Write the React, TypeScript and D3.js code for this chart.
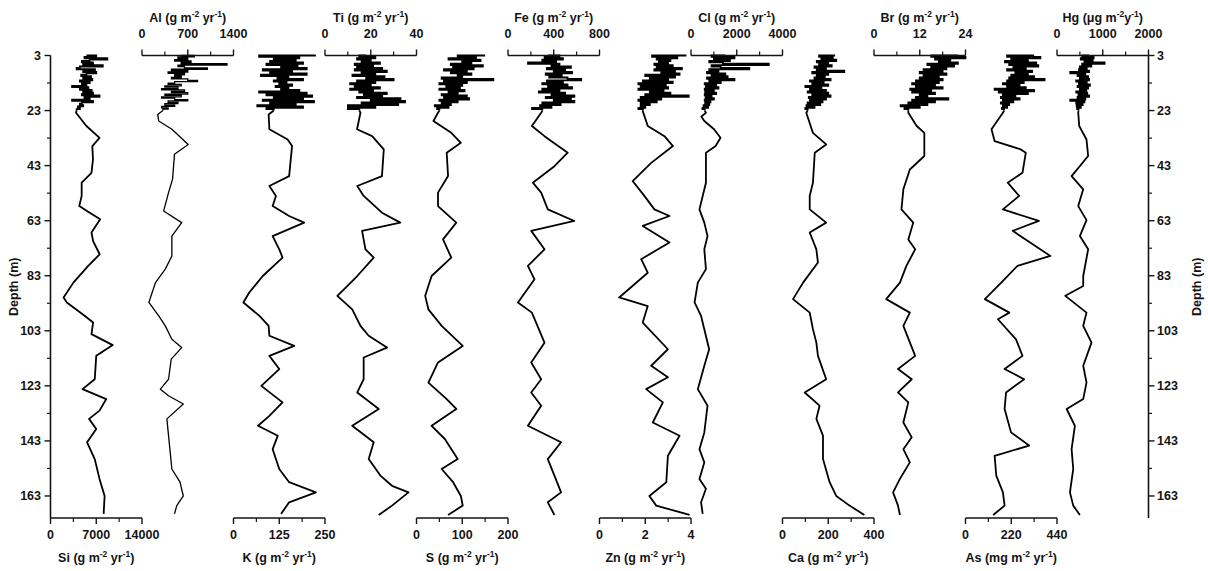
import React from "react";
import * as d3 from "d3";

// ---------- DATA ----------
const depthTicks = [3, 23, 43, 63, 83, 103, 123, 143, 163];
const depthMinorTicks = [13, 33, 53, 73, 93, 113, 133, 153];

const topDepths = [3, 3.5, 4, 4.5, 5, 5.5, 6, 6.5, 7, 7.5, 8, 8.5, 9, 9.5, 10, 10.5, 11, 11.5, 12, 12.5, 13, 13.5, 14, 14.5, 15, 15.5, 16, 16.5, 17, 17.5, 18, 18.5, 19, 19.5, 20, 20.5, 21, 21.5, 22, 22.5, 23];

const siTop = [5500, 7000, 5200, 8700, 6000, 4800, 6500, 5000, 8000, 4500, 4000, 6800, 5000, 7000, 5500, 4700, 6200, 5000, 6400, 4500, 6000, 4800, 5500, 3300, 5800, 4500, 6300, 5000, 6500, 4800, 7500, 5200, 6000, 3300, 6500, 4800, 4500, 5000, 4200, 4500, 4000];
const siLow: [number, number][] = [[23.8, 3900], [28.6, 5500], [32.9, 7500], [35.9, 6400], [40.7, 6500], [45.6, 6270], [49.2, 4770], [54, 4770], [57.7, 4400], [60.1, 6000], [62.5, 7600], [67.3, 6270], [70.4, 6520], [75.2, 7520], [79.4, 5770], [85.5, 3500], [90.9, 2000], [92.7, 2500], [97.6, 5270], [100, 6520], [104.2, 6270], [108.2, 9530], [112.1, 7000], [120.6, 6770], [124.2, 4900], [127.8, 8530], [132, 7500], [135, 5900], [138.7, 7000], [143.5, 5600], [149.6, 6770], [156.8, 7500], [163, 8280], [169.5, 8130]];

const alTop = [600, 800, 550, 700, 500, 750, 600, 1300, 550, 650, 1000, 450, 700, 400, 650, 500, 600, 450, 700, 850, 500, 400, 600, 350, 550, 300, 650, 450, 700, 350, 600, 300, 500, 700, 400, 550, 350, 500, 300, 400, 320];
const alLow: [number, number][] = [[24.4, 240], [26.8, 256], [29.8, 457], [35.3, 707], [38.9, 497], [48, 467], [52.8, 406], [59.5, 331], [63.7, 607], [68.6, 457], [75.8, 457], [80.6, 356], [85.5, 206], [92.7, 105], [97.6, 256], [101.2, 356], [106.1, 457], [109.1, 607], [113.3, 447], [120.6, 406], [124.2, 281], [126.6, 406], [129.6, 632], [135, 381], [141.1, 406], [153.2, 457], [158, 582], [163, 632], [166.5, 532], [169.5, 497]];

const kTop = [225, 70, 180, 110, 170, 100, 190, 90, 175, 130, 200, 80, 160, 100, 200, 75, 150, 120, 190, 110, 145, 125, 160, 115, 150, 130, 180, 70, 200, 90, 215, 110, 190, 80, 220, 100, 170, 65, 190, 90, 110];
const kLow: [number, number][] = [[24.4, 96], [29.8, 98], [33.5, 148], [35.9, 160], [46.8, 152], [50.4, 98], [54, 116], [57.7, 107], [61.3, 152], [63.7, 193], [68.6, 107], [73.4, 125], [76.4, 134], [83.1, 80], [89.1, 43], [92.7, 27], [97.6, 71], [101.2, 96], [104.8, 98], [108.5, 166], [112.1, 98], [116.9, 125], [123, 76], [129, 134], [133.9, 98], [137.5, 67], [141.1, 121], [146, 107], [153.2, 125], [158, 152], [161.7, 225], [165.3, 152], [169.5, 130]];

const tiTop = [18, 15, 22, 14, 20, 16, 24, 13, 21, 14, 25, 13, 27, 16, 22, 12, 26, 18, 30, 14, 22, 11, 20, 13, 24, 11, 21, 15, 27, 17, 25, 14, 33, 20, 35, 16, 32, 10, 22, 10, 15];
const tiLow: [number, number][] = [[23.8, 15.5], [29.8, 14], [32.3, 20.6], [37.1, 25.7], [46.8, 24.9], [50.4, 14.1], [54, 16.9], [60.1, 24.9], [63.7, 32.9], [66.7, 16.2], [73.4, 17.7], [76.4, 21.3], [83.1, 14.1], [90.3, 5.4], [95.2, 11.9], [101.2, 15.5], [104.8, 19.1], [109.1, 27.1], [112.7, 16.9], [120.6, 16.9], [125.4, 14.1], [131.4, 23.5], [137.5, 11.9], [143.5, 21.3], [149.6, 19.1], [155.6, 24.2], [159.3, 29.3], [161.7, 36.5], [166.5, 29.3], [169.9, 23.5]];

const sTop = [150, 90, 130, 70, 140, 100, 120, 75, 145, 80, 125, 60, 110, 75, 120, 90, 100, 55, 168, 60, 110, 50, 100, 65, 95, 50, 105, 70, 90, 55, 110, 60, 115, 50, 90, 55, 75, 40, 70, 45, 50];
const sLow: [number, number][] = [[23.8, 47], [26.8, 37], [31.1, 76], [34.7, 97], [38.3, 66], [46.8, 69], [52.8, 47], [57.7, 47], [63.7, 87], [69.8, 58], [76.4, 76], [83.1, 33], [90.3, 19], [95.2, 26], [101.2, 55], [108.5, 101], [114.5, 47], [121.8, 26], [127.8, 66], [131.4, 87], [137.5, 33], [142.3, 62], [149.6, 90], [153.2, 55], [158, 80], [163, 97], [166.5, 101], [169.9, 69]];

const feTop = [350, 450, 320, 480, 300, 420, 175, 450, 380, 550, 340, 500, 400, 560, 330, 470, 360, 520, 640, 340, 480, 300, 520, 350, 560, 300, 450, 270, 500, 380, 580, 330, 550, 400, 580, 300, 460, 280, 380, 210, 300];
const feLow: [number, number][] = [[23.8, 290], [28.6, 209], [32.3, 319], [38.3, 522], [43.2, 406], [49.2, 217], [52.8, 290], [58.9, 348], [63.1, 580], [66.7, 203], [73.4, 319], [79.4, 174], [84.3, 232], [92.7, 87], [96.4, 209], [107.3, 319], [114.5, 203], [120.6, 290], [125.4, 203], [130.2, 290], [137.5, 174], [143.5, 464], [149.6, 348], [155.6, 406], [161.7, 464], [165.3, 348], [169.9, 406]];

const znTop = [3.8, 2.3, 3.4, 2.5, 3.1, 2.6, 3.0, 2.4, 3.2, 2.5, 3.6, 2.4, 3.3, 2.7, 3.5, 2.0, 3.3, 2.2, 3.0, 1.9, 3.2, 1.7, 2.9, 1.8, 3.0, 1.7, 2.8, 2.2, 3.1, 2.0, 3.9, 1.8, 2.7, 1.7, 2.5, 1.8, 2.2, 1.8, 2.0, 1.7, 1.9];
const znLow: [number, number][] = [[23.2, 1.89], [28.6, 2.11], [32.3, 2.84], [35.9, 3.21], [42, 2.26], [48.6, 1.45], [54, 1.96], [58.9, 2.4], [61.3, 3.06], [64.9, 1.89], [70.9, 3.06], [77, 1.82], [81.9, 2.11], [90.9, 0.86], [94, 2.11], [100, 1.89], [109.7, 2.99], [115.7, 2.26], [119.9, 2.99], [124.2, 2.04], [129, 2.77], [136.3, 2.33], [141.1, 3.5], [148.4, 2.99], [158, 2.92], [163, 2.18], [166.5, 2.48], [169.9, 3.94]];

const clTop = [1500, 900, 1900, 1000, 1700, 800, 1400, 3400, 900, 1300, 2550, 800, 1200, 700, 1500, 900, 1600, 700, 1900, 800, 1300, 600, 1100, 650, 1200, 600, 1000, 620, 1100, 600, 900, 640, 1000, 600, 850, 620, 800, 550, 750, 500, 600];
const clLow: [number, number][] = [[23.8, 653], [25.2, 450], [26.8, 582], [29.8, 1007], [32.9, 1290], [35.9, 1078], [38.3, 653], [49.2, 653], [58.9, 369], [63.7, 582], [68.6, 723], [73.4, 582], [80.6, 653], [85.5, 298], [92.7, 156], [97.6, 440], [109.7, 794], [115.7, 582], [124.2, 298], [130.2, 723], [139.9, 582], [146, 369], [150.8, 582], [156.8, 369], [160.4, 653], [165.3, 440], [169.5, 511]];

const caTop = [230, 160, 220, 170, 235, 150, 200, 160, 215, 140, 190, 150, 270, 130, 200, 150, 185, 140, 210, 120, 180, 130, 200, 100, 170, 120, 190, 110, 200, 130, 210, 115, 190, 120, 175, 110, 165, 105, 140, 100, 110];
const caLow: [number, number][] = [[23.8, 104], [31.1, 133], [35.3, 191], [38.3, 141], [49.2, 133], [54, 119], [58.9, 119], [63.7, 191], [67.3, 119], [73.4, 148], [78.2, 155], [85.5, 90], [91.5, 46], [96.4, 119], [102.4, 133], [107.3, 148], [112.1, 155], [120.6, 191], [125.4, 97], [130.2, 162], [135, 148], [141.1, 177], [149.6, 177], [158, 206], [163, 235], [166.5, 293], [169.9, 358]];

const brTop = [22, 15, 24, 16, 20, 17, 22, 14, 21, 15, 19, 13, 18, 12, 19, 13, 17, 12, 18, 11, 17, 10, 16, 11, 18, 9.5, 15, 10, 16, 12, 14, 11, 19.5, 10, 16, 9, 14, 7, 12, 8, 9];
const brLow: [number, number][] = [[23.8, 9], [28.6, 11.2], [31.1, 13.2], [39.5, 13.2], [44.4, 9.4], [51.6, 7.7], [58.9, 7.2], [63.7, 10.3], [69.8, 9], [73.4, 10.8], [79.4, 8.5], [85.5, 6.8], [91.5, 3.2], [96.4, 9.4], [101.2, 7.7], [112.1, 10.8], [116.9, 6.3], [120.6, 9.9], [125.4, 6.3], [129, 9], [136.3, 7.7], [141.7, 9.9], [146, 7.7], [150.8, 9.4], [156.8, 6.8], [161.7, 5], [166.5, 6.3], [169.9, 6.8]];

const asTop = [330, 200, 360, 220, 300, 190, 340, 210, 350, 230, 290, 200, 320, 240, 300, 220, 330, 210, 380, 200, 280, 180, 260, 200, 290, 140, 330, 160, 300, 180, 240, 170, 260, 180, 230, 170, 210, 180, 200, 175, 185];
const asLow: [number, number][] = [[23.8, 180], [29.8, 125], [34.1, 140], [37.1, 266], [38.3, 290], [45.6, 274], [49.2, 203], [54, 258], [58.9, 180], [63.1, 353], [66.7, 227], [75.8, 408], [79.4, 250], [85.5, 172], [91.5, 93], [96.4, 211], [98.8, 156], [106.1, 243], [112.1, 274], [116.9, 188], [120.6, 282], [125.4, 195], [131.4, 188], [139.9, 219], [144.7, 306], [148.4, 140], [155.6, 148], [161.7, 180], [166.5, 188], [169.9, 133]];

const hgTop = [700, 550, 800, 520, 780, 600, 1040, 550, 750, 500, 650, 480, 700, 290, 620, 450, 680, 500, 700, 420, 650, 480, 720, 450, 680, 500, 640, 420, 660, 470, 700, 450, 620, 290, 600, 420, 560, 430, 520, 440, 470];
const hgLow: [number, number][] = [[23.8, 464], [28.6, 486], [33.5, 645], [39.5, 681], [46.8, 319], [51.6, 573], [57.7, 464], [62.8, 645], [68.6, 500], [73.4, 681], [83.1, 573], [86.7, 573], [90.3, 182], [96.4, 645], [101.2, 573], [107.3, 754], [115.7, 573], [121.8, 645], [127.8, 573], [131.4, 211], [137.5, 391], [146, 319], [153.2, 355], [161.7, 283], [166.5, 355], [169.9, 500]];

const siTicks = [0, 7000, 14000];
const alTicks = [0, 700, 1400];
const kTicks = [0, 125, 250];
const tiTicks = [0, 20, 40];
const sTicks = [0, 100, 200];
const feTicks = [0, 400, 800];
const znTicks = [0, 2, 4];
const clTicks = [0, 2000, 4000];
const caTicks = [0, 200, 400];
const brTicks = [0, 12, 24];
const asTicks = [0, 220, 440];
const hgTicks = [0, 1000, 2000];

type Panel = { name: string; pre: string; yr: string; ticks: number[]; top: number[]; low: [number, number][]; thin?: boolean };

const panels: Panel[] = [
  { name: "Si", pre: "g", yr: " yr", ticks: siTicks, top: siTop, low: siLow },
  { name: "Al", pre: "g", yr: " yr", ticks: alTicks, top: alTop, low: alLow, thin: true },
  { name: "K", pre: "g", yr: " yr", ticks: kTicks, top: kTop, low: kLow },
  { name: "Ti", pre: "g", yr: " yr", ticks: tiTicks, top: tiTop, low: tiLow },
  { name: "S", pre: "g", yr: " yr", ticks: sTicks, top: sTop, low: sLow },
  { name: "Fe", pre: "g", yr: " yr", ticks: feTicks, top: feTop, low: feLow },
  { name: "Zn", pre: "g", yr: " yr", ticks: znTicks, top: znTop, low: znLow },
  { name: "Cl", pre: "g", yr: " yr", ticks: clTicks, top: clTop, low: clLow },
  { name: "Ca", pre: "g", yr: " yr", ticks: caTicks, top: caTop, low: caLow },
  { name: "Br", pre: "g", yr: " yr", ticks: brTicks, top: brTop, low: brLow },
  { name: "As", pre: "mg", yr: " yr", ticks: asTicks, top: asTop, low: asLow },
  { name: "Hg", pre: "μg", yr: "y", ticks: hgTicks, top: hgTop, low: hgLow },
];

// ---------- LAYOUT ----------
const W = 1208;
const H = 571;
const FONT = "'Liberation Sans', Arial, Helvetica, sans-serif";
const INK = "#141414";
const FS = 12.5;
const FW = 700;

const y = d3.scaleLinear().domain([3, 171]).range([55.5, 518]);
const panelX = d3.scaleLinear().domain([0, 12]).range([50.5, 1148.5]);

function Title({ p, x, yy }: { p: Panel; x: number; yy: number }) {
  return (
    <text x={x} y={yy} textAnchor="middle" fontSize={FS} fontWeight={FW} fontFamily={FONT} fill={INK}>
      <tspan>{`${p.name} (${p.pre} m`}</tspan>
      <tspan dy={-5} fontSize={8.5}>-2</tspan>
      <tspan dy={5}>{p.yr}</tspan>
      <tspan dy={-5} fontSize={8.5}>-1</tspan>
      <tspan dy={5}>)</tspan>
    </text>
  );
}

export default function App() {
  return (
    <svg width={W} height={H} style={{ position: "absolute", left: 0, top: 0, background: "#fff" }}>
      {panels.map((p, i) => {
        const x0 = panelX(i);
        const x1 = panelX(i + 1);
        const max = p.ticks[p.ticks.length - 1];
        const x = d3.scaleLinear().domain([0, max]).range([x0, x1]);
        const topPts: [number, number][] = topDepths
          .map((d, k) => [d, p.top[k]] as [number, number])
          .filter((d) => d[1] !== undefined);
        const lowPts: [number, number][] = [topPts[topPts.length - 1], ...p.low];
        const stepLine = d3
          .line<[number, number]>()
          .x((d) => x(d[1]))
          .y((d) => y(d[0]))
          .curve(d3.curveStepAfter);
        const line = d3
          .line<[number, number]>()
          .x((d) => x(d[1]))
          .y((d) => y(d[0]));
        const isTop = i % 2 === 1;
        const ay = isTop ? y.range()[0] : y.range()[1];
        const dir = isTop ? -1 : 1;
        const minor = [max / 4, (3 * max) / 4];
        const sw = p.thin ? 1.3 : 1.8;
        return (
          <g key={p.name}>
            <path d={stepLine(topPts) || ""} fill="none" stroke="#000" strokeWidth={sw} strokeLinejoin="miter" />
            <path d={line(lowPts) || ""} fill="none" stroke="#000" strokeWidth={sw} strokeLinejoin="round" />
            <line x1={x0} x2={x1} y1={ay} y2={ay} stroke={INK} strokeWidth={1.6} />
            {p.ticks.map((t) => (
              <line key={"M" + t} x1={x(t)} x2={x(t)} y1={ay} y2={ay + dir * 6} stroke={INK} strokeWidth={1.4} />
            ))}
            {minor.map((t) => (
              <line key={"m" + t} x1={x(t)} x2={x(t)} y1={ay} y2={ay + dir * 4} stroke={INK} strokeWidth={1.2} />
            ))}
            {p.ticks.map((t) => (
              <text key={"L" + t} x={x(t)} y={isTop ? 38 : 539} textAnchor="middle" fontSize={FS} fontWeight={FW} fontFamily={FONT} fill={INK}>
                {t}
              </text>
            ))}
            <Title p={p} x={(x0 + x1) / 2} yy={isTop ? 22 : 561.5} />
          </g>
        );
      })}

      {/* left depth axis */}
      <g>
        <line x1={50.5} x2={50.5} y1={y.range()[0]} y2={y.range()[1]} stroke={INK} strokeWidth={1.6} />
        {depthTicks.map((t) => (
          <g key={"l" + t}>
            <line x1={44.5} x2={50.5} y1={y(t)} y2={y(t)} stroke={INK} strokeWidth={1.4} />
            <text x={41} y={y(t)} dy="0.36em" textAnchor="end" fontSize={FS} fontWeight={FW} fontFamily={FONT} fill={INK}>
              {t}
            </text>
          </g>
        ))}
        {depthMinorTicks.map((t) => (
          <line key={"lm" + t} x1={47} x2={50.5} y1={y(t)} y2={y(t)} stroke={INK} strokeWidth={1.2} />
        ))}
        <text transform={`translate(18,${(y.range()[0] + y.range()[1]) / 2}) rotate(-90)`} textAnchor="middle" fontSize={FS} fontWeight={FW} fontFamily={FONT} fill={INK}>
          Depth (m)
        </text>
      </g>

      {/* right depth axis */}
      <g>
        <line x1={1148.5} x2={1148.5} y1={y.range()[0]} y2={y.range()[1]} stroke={INK} strokeWidth={1.6} />
        {depthTicks.map((t) => (
          <g key={"r" + t}>
            <line x1={1148.5} x2={1154.5} y1={y(t)} y2={y(t)} stroke={INK} strokeWidth={1.4} />
            <text x={1157} y={y(t)} dy="0.36em" textAnchor="start" fontSize={FS} fontWeight={FW} fontFamily={FONT} fill={INK}>
              {t}
            </text>
          </g>
        ))}
        {depthMinorTicks.map((t) => (
          <line key={"rm" + t} x1={1148.5} x2={1152} y1={y(t)} y2={y(t)} stroke={INK} strokeWidth={1.2} />
        ))}
        <text transform={`translate(1201,${(y.range()[0] + y.range()[1]) / 2}) rotate(-90)`} textAnchor="middle" fontSize={FS} fontWeight={FW} fontFamily={FONT} fill={INK}>
          Depth (m)
        </text>
      </g>
    </svg>
  );
}
